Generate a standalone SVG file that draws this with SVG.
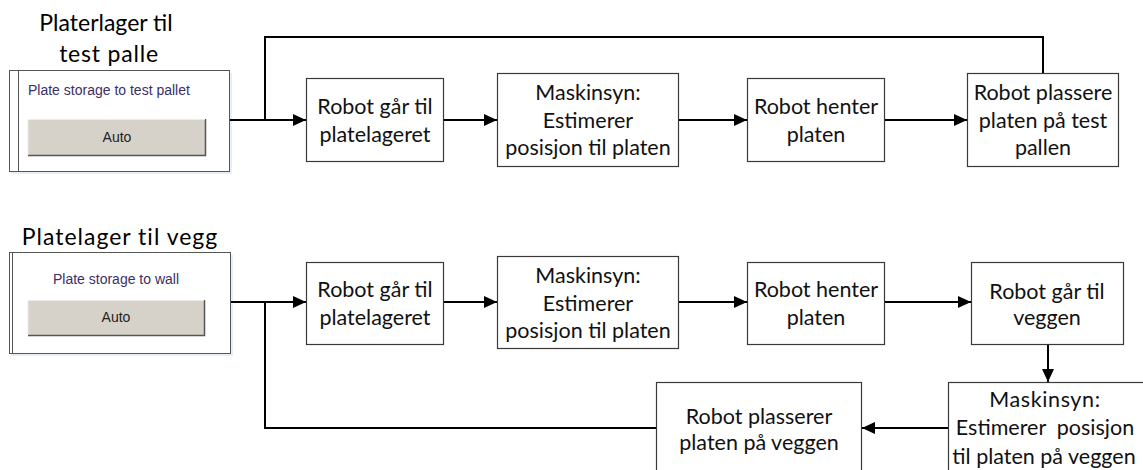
<svg xmlns="http://www.w3.org/2000/svg" width="1143" height="470" viewBox="0 0 1143 470">
  <style>
    .box { fill: #ffffff; stroke: #3a3a3a; stroke-width: 1.2; }
    .lbl { font-family: Lato, "Noto Sans", sans-serif; font-size: 21.5px; fill: #111; text-anchor: middle; }
    .title { font-family: Lato, "Noto Sans", sans-serif; font-size: 23px; fill: #000; text-anchor: middle; }
    .panel { fill: #ffffff; stroke: #555; stroke-width: 1; }
    .ptxt { font-family: "Liberation Sans", Arial, sans-serif; font-size: 14px; fill: #3b2f66; }
    .btn { fill: #d6d2ca; }
    .btxt { font-family: "Liberation Sans", Arial, sans-serif; font-size: 14px; fill: #222; text-anchor: middle; }
    .wire { fill: none; stroke: #000; stroke-width: 2; }
    .shadow { fill: #e6eef8; }
  </style>
  <defs>
    <marker id="arrow" viewBox="0 0 13 12" refX="13" refY="6" markerWidth="13" markerHeight="12" markerUnits="userSpaceOnUse" orient="auto">
      <path d="M0,0 L13,6 L0,12 Z" fill="#000"/>
    </marker>
  </defs>

  <!-- Row 1: plate storage to test pallet -->
  <g id="title-top">
    <text class="title" x="106" y="31">Platerlager til</text>
    <text class="title" x="109" y="62" letter-spacing="0.8">test palle</text>
  </g>
  <g id="panel-top">
    <rect class="shadow" x="11" y="73" width="221" height="101"/>
    <rect class="panel" x="9.5" y="70.5" width="220" height="101"/>
    <line x1="18.5" y1="70.5" x2="18.5" y2="171.5" stroke="#555" stroke-width="1"/>
    <text class="ptxt" x="28" y="95">Plate storage to test pallet</text>
    <rect class="btn" x="28" y="119" width="177" height="36"/>
    <path d="M28,155.5 H205.5 V119" fill="none" stroke="#555" stroke-width="1.5"/>
    <path d="M28,155 V119.5 H205" fill="none" stroke="#eeeae4" stroke-width="1"/>
    <text class="btxt" x="117" y="142">Auto</text>
  </g>
  <g id="t1">
    <rect class="box" x="306.5" y="78.5" width="137" height="83"/>
    <text class="lbl" x="375" y="114">Robot går til</text>
    <text class="lbl" x="375" y="142">platelageret</text>
  </g>
  <g id="t2">
    <rect class="box" x="497.5" y="73.5" width="181" height="93"/>
    <text class="lbl" x="588" y="100">Maskinsyn:</text>
    <text class="lbl" x="588" y="128">Estimerer</text>
    <text class="lbl" x="588" y="155">posisjon til platen</text>
  </g>
  <g id="t3">
    <rect class="box" x="747.5" y="78.5" width="137" height="83"/>
    <text class="lbl" x="816" y="114">Robot henter</text>
    <text class="lbl" x="816" y="142">platen</text>
  </g>
  <g id="t4">
    <rect class="box" x="967.5" y="73.5" width="151" height="93"/>
    <text class="lbl" x="1043" y="100">Robot plassere</text>
    <text class="lbl" x="1043" y="128">platen på test</text>
    <text class="lbl" x="1043" y="155">pallen</text>
  </g>

  <!-- Row 2: plate storage to wall -->
  <g id="title-bottom">
    <text class="title" x="120" y="245" letter-spacing="1">Platelager til vegg</text>
  </g>
  <g id="panel-bottom">
    <rect class="shadow" x="11" y="255" width="222" height="101"/>
    <rect class="panel" x="9.5" y="252.5" width="221" height="101"/>
    <line x1="12.5" y1="252.5" x2="12.5" y2="353.5" stroke="#555" stroke-width="1"/>
    <text class="ptxt" x="116" y="284" text-anchor="middle">Plate storage to wall</text>
    <rect class="btn" x="28" y="300" width="176" height="35"/>
    <path d="M28,335.5 H204.5 V300" fill="none" stroke="#555" stroke-width="1.5"/>
    <path d="M28,335 V300.5 H204" fill="none" stroke="#eeeae4" stroke-width="1"/>
    <text class="btxt" x="116" y="322">Auto</text>
  </g>
  <g id="w1">
    <rect class="box" x="306.5" y="262.5" width="137" height="82"/>
    <text class="lbl" x="375" y="297">Robot går til</text>
    <text class="lbl" x="375" y="325">platelageret</text>
  </g>
  <g id="w2">
    <rect class="box" x="497.5" y="256.5" width="181" height="92"/>
    <text class="lbl" x="588" y="283">Maskinsyn:</text>
    <text class="lbl" x="588" y="311">Estimerer</text>
    <text class="lbl" x="588" y="338">posisjon til platen</text>
  </g>
  <g id="w3">
    <rect class="box" x="747.5" y="262.5" width="137" height="82"/>
    <text class="lbl" x="816" y="297">Robot henter</text>
    <text class="lbl" x="816" y="325">platen</text>
  </g>
  <g id="w4">
    <rect class="box" x="971.5" y="262.5" width="152" height="82"/>
    <text class="lbl" x="1047" y="299">Robot går til</text>
    <text class="lbl" x="1047" y="325">veggen</text>
  </g>
  <g id="w5">
    <rect class="box" x="948.5" y="382.5" width="200" height="100"/>
    <text class="lbl" x="1045" y="407" letter-spacing="0.6">Maskinsyn:</text>
    <text class="lbl" x="1045" y="435" xml:space="preserve">Estimerer  posisjon</text>
    <text class="lbl" x="1044" y="464">til platen på veggen</text>
  </g>
  <g id="w6">
    <rect class="box" x="656.5" y="382.5" width="205" height="100"/>
    <text class="lbl" x="759" y="424">Robot plasserer</text>
    <text class="lbl" x="759" y="450">platen på veggen</text>
  </g>

  <g id="connectors">
    <!-- row 1 -->
    <line class="wire" x1="230" y1="120" x2="306" y2="120" marker-end="url(#arrow)"/>
    <polyline class="wire" points="265,120 265,37 1043,37 1043,73"/>
    <line class="wire" x1="444" y1="120" x2="497" y2="120" marker-end="url(#arrow)"/>
    <line class="wire" x1="679" y1="120" x2="747" y2="120" marker-end="url(#arrow)"/>
    <line class="wire" x1="885" y1="120" x2="967" y2="120" marker-end="url(#arrow)"/>
    <!-- row 2 -->
    <line class="wire" x1="231" y1="302" x2="306" y2="302" marker-end="url(#arrow)"/>
    <line class="wire" x1="444" y1="302" x2="497" y2="302" marker-end="url(#arrow)"/>
    <line class="wire" x1="679" y1="302" x2="747" y2="302" marker-end="url(#arrow)"/>
    <line class="wire" x1="885" y1="302" x2="971" y2="302" marker-end="url(#arrow)"/>
    <line class="wire" x1="1048" y1="345" x2="1048" y2="382" marker-end="url(#arrow)"/>
    <line class="wire" x1="948" y1="428" x2="862" y2="428" marker-end="url(#arrow)"/>
    <polyline class="wire" points="656,428 265,428 265,302"/>
  </g>
</svg>
